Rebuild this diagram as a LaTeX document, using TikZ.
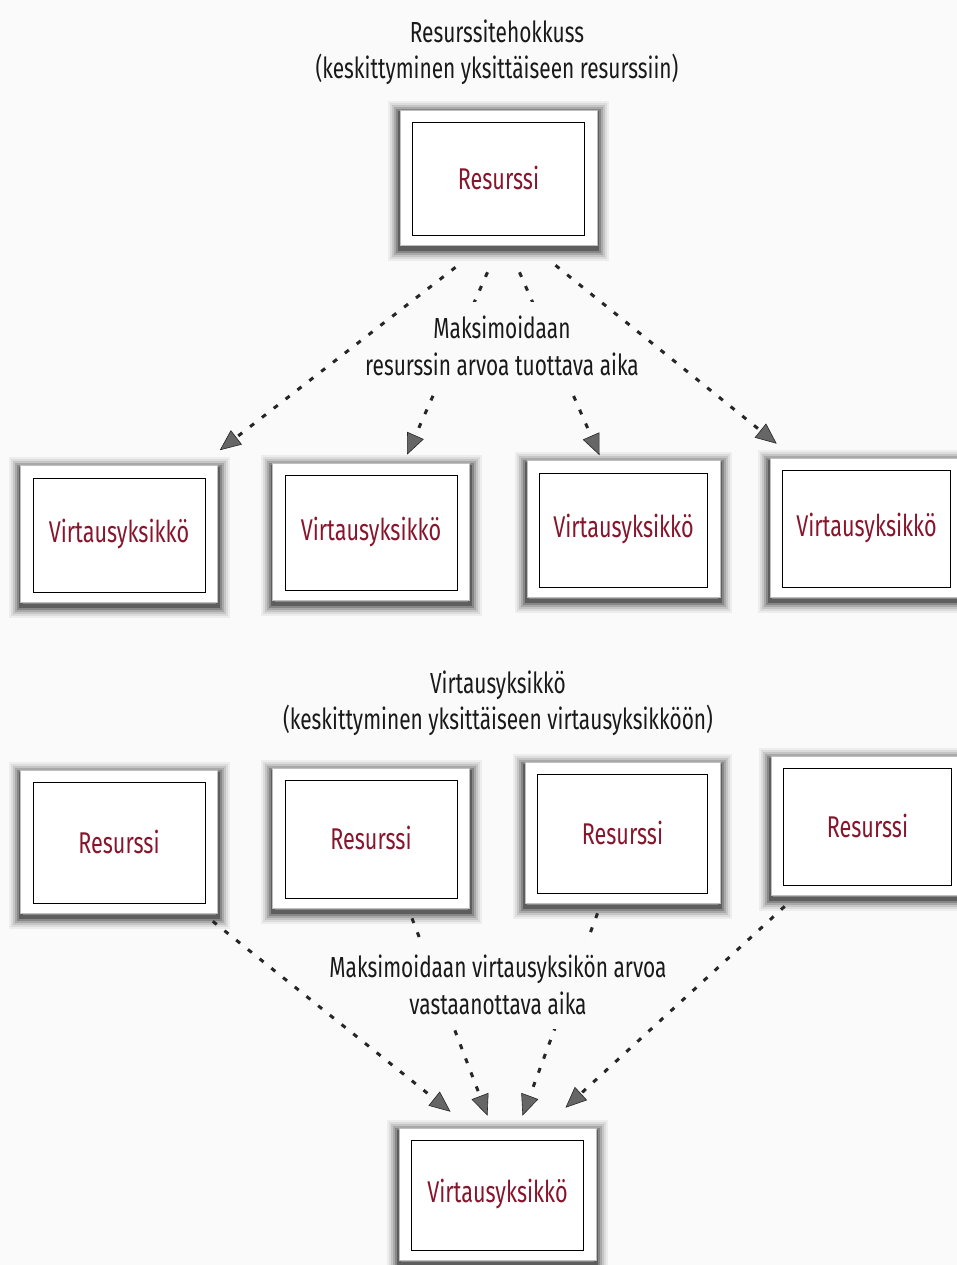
\documentclass[tikz,border=0pt]{standalone}
\usepackage{fontspec}
\setmainfont{Fira Sans}[FakeStretch=0.72]
\usetikzlibrary{arrows.meta,calc}
\definecolor{boxred}{RGB}{135,22,45}
\definecolor{paper}{RGB}{250,250,250}
\tikzset{
  shl/.style 2 args={preaction={draw=black, line width=#1, draw opacity=#2, transform canvas={yshift=-3.5pt}}},
  card/.style={rectangle, fill=white, draw=black!25, line width=0.6pt,
    minimum width=197pt, minimum height=137pt, inner sep=0pt,
    font=\fontsize{30}{34}\selectfont, text=boxred,
    shl={24pt}{0.05}, shl={20pt}{0.07}, shl={16pt}{0.1}, shl={12pt}{0.14},
    shl={8pt}{0.2}, shl={4pt}{0.3},
    path picture={\draw[black, line width=0.7pt]
      ([shift={(12.5pt,-12.5pt)}]path picture bounding box.north west) rectangle
      ([shift={(-12.5pt,10pt)}]path picture bounding box.south east);}},
  title/.style={font=\fontsize{29}{36}\selectfont, align=center, text=black!90, inner sep=2pt},
  lbl/.style={font=\fontsize{29}{37}\selectfont, align=center, text=black!90, fill=paper,
    inner xsep=4pt, inner ysep=14pt},
  flow/.style={line width=3pt, black!85, dash pattern=on 5pt off 10pt,
    -{Triangle[length=21pt,width=18pt,fill=black!60,line width=0.6pt]}}
}
\begin{document}
\begin{tikzpicture}[x=1pt,y=-1pt]
\useasboundingbox[fill=paper] (0,0) rectangle (957,1265);

% ---- top part ----
\node[title] (t1) at (497,52) {Resurssitehokkuss\\(keskittyminen yksittäiseen resurssiin)};
\node[card, minimum height=135pt] (r0) at (498.5,177.5) {Resurssi};

\node[card] (v1) at (119,534) {Virtausyksikkö};
\node[card] (v2) at (371,531.5) {Virtausyksikkö};
\node[card, minimum width=193pt] (v3) at (623.5,529) {Virtausyksikkö};
\node[card, minimum width=193pt, minimum height=139pt] (v4) at (866.5,527.5) {Virtausyksikkö};

\coordinate (a1s) at ($(r0.south)+(-43,22)$);
\coordinate (a2s) at ($(r0.south)+(-11,27)$);
\coordinate (a3s) at ($(r0.south)+(21,27)$);
\coordinate (a4s) at ($(r0.south)+(57,20)$);
\coordinate (a1e) at ($(v1.north east)+(2,-15)$);
\coordinate (a2e) at ($(v2.north)+(36,-8)$);
\coordinate (a3e) at ($(v3.north)+(-24,-5)$);
\coordinate (a4e) at ($(v4.north west)+(7,-14)$);
\draw[flow] (a2s) -- (a2e);
\draw[flow] (a3s) -- (a3e);
\node[lbl] (l1) at (502,346) {Maksimoidaan\\resurssin arvoa tuottava aika};
\draw[flow] (a1s) -- (a1e);
\draw[flow] (a4s) -- (a4e);

% ---- bottom part ----
\node[title] (t2) at (498,703) {Virtausyksikkö\\(keskittyminen yksittäiseen virtausyksikköön)};

\node[card, minimum height=143pt] (p1) at (119,841.5) {Resurssi};
\node[card, minimum height=140pt] (p2) at (371,838) {Resurssi};
\node[card, minimum width=195pt, minimum height=141pt] (p3) at (622.5,832.5) {Resurssi};
\node[card, minimum width=193pt, minimum height=139pt] (p4) at (867.5,825.5) {Resurssi};

\node[card, minimum height=132pt] (b0) at (497.5,1194) {Virtausyksikkö};

\coordinate (b1s) at ($(p1.south east)+(-5,8)$);
\coordinate (b2s) at ($(p2.south)+(41,10)$);
\coordinate (b3s) at ($(p3.south)+(-25,10)$);
\coordinate (b4s) at ($(p4.south west)+(14,11)$);
\coordinate (b1e) at ($(b0.north)+(-47,-16)$);
\coordinate (b2e) at ($(b0.north)+(-10,-12)$);
\coordinate (b3e) at ($(b0.north)+(25,-12)$);
\coordinate (b4e) at ($(b0.north)+(68,-20)$);
\draw[flow] (b2s) -- (b2e);
\draw[flow] (b3s) -- (b3e);
\node[lbl] (l2) at (498,985) {Maksimoidaan virtausyksikön arvoa\\vastaanottava aika};
\draw[flow] (b1s) -- (b1e);
\draw[flow] (b4s) -- (b4e);
\end{tikzpicture}
\end{document}
